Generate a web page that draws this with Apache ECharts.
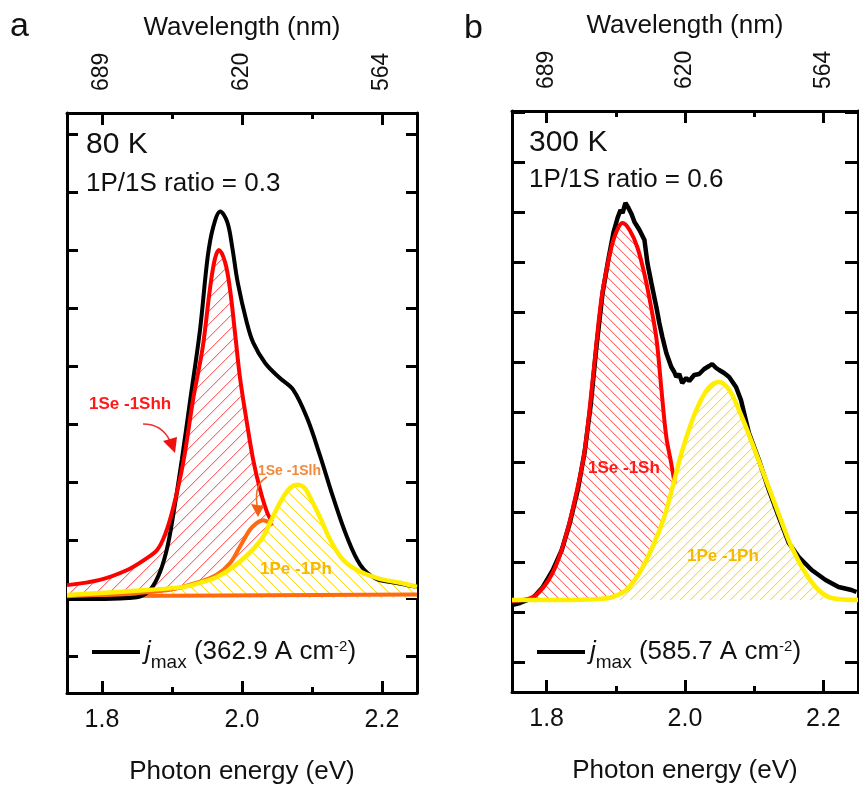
<!DOCTYPE html>
<html>
<head>
<meta charset="utf-8">
<script src="https://cdn.jsdelivr.net/npm/echarts@6/dist/echarts.min.js"></script>
<style>
html,body{margin:0;padding:0;background:#fff;}
#chart{width:859px;height:788px;}
</style>
</head>
<body>
<div id="chart"></div>
<script>
// ---------- axis ticks / labels ----------
const energyTicks = [1.8, 2.0, 2.2];
const energyMinorTicks = [1.9, 2.1];
const wavelengthLabels = ['689', '620', '564'];
const yTicksA = [-1, 0, 1, 2, 3, 4, 5, 6, 7, 8];
const yTicksB = [-1.24, -0.24, 0.76, 1.76, 2.76, 3.76, 4.76, 5.76, 6.76, 7.76, 8.76, 9.76];

// ---------- panel a (80 K) ----------
const blackA_E = [1.75, 1.797, 1.84, 1.854, 1.869, 1.883, 1.894, 1.904, 1.914, 1.926, 1.94, 1.951, 1.959, 1.969, 1.979, 1.986, 1.994, 2.007, 2.016, 2.033, 2.054, 2.073, 2.093, 2.111, 2.13, 2.15, 2.169, 2.19, 2.219, 2.25];
const blackA_I = [-0.02, -0.02, 0, 0.02, 0.14, 0.45, 0.91, 1.60, 2.38, 3.41, 4.62, 5.88, 6.40, 6.66, 6.48, 6.05, 5.43, 4.74, 4.40, 4.05, 3.79, 3.59, 3.10, 2.47, 1.74, 1.05, 0.57, 0.34, 0.26, 0.19];
const redA_E = [1.75, 1.797, 1.836, 1.861, 1.879, 1.89, 1.901, 1.916, 1.93, 1.944, 1.954, 1.961, 1.967, 1.976, 1.983, 1.99, 1.997, 2.007, 2.016, 2.026, 2.036, 2.043];
const redA_I = [0.22, 0.31, 0.48, 0.66, 0.83, 1.09, 1.52, 2.33, 3.41, 4.33, 5.31, 5.83, 6.00, 5.78, 5.31, 4.57, 3.81, 3.02, 2.38, 1.86, 1.47, 1.31];
const orangeA_E = [1.75, 1.826, 1.897, 1.94, 1.964, 1.983, 1.997, 2.011, 2.021, 2.03, 2.04, 2.043];
const orangeA_I = [0.03, 0.07, 0.14, 0.28, 0.40, 0.60, 0.88, 1.17, 1.29, 1.34, 1.29, 1.24];
const orangeBaseA_E = [1.75, 2.25];
const orangeBaseA_I = [0.03, 0.06];
const yellowA_E = [1.75, 1.869, 1.916, 1.94, 1.964, 1.987, 2.011, 2.03, 2.044, 2.059, 2.069, 2.079, 2.089, 2.097, 2.111, 2.126, 2.144, 2.164, 2.193, 2.226, 2.25];
const yellowA_I = [0.05, 0.14, 0.19, 0.26, 0.36, 0.53, 0.78, 1.05, 1.40, 1.74, 1.90, 1.95, 1.90, 1.74, 1.40, 1.00, 0.66, 0.48, 0.34, 0.26, 0.19];

// ---------- panel b (300 K) ----------
const blackB_E = [1.75, 1.7615, 1.7802, 1.7946, 1.809, 1.8219, 1.8335, 1.845, 1.855, 1.8637, 1.8723, 1.8809, 1.8896, 1.8968, 1.9025, 1.9068, 1.9097, 1.914, 1.9183, 1.9227, 1.927, 1.9342, 1.9414, 1.9457, 1.9514, 1.9586, 1.9629, 1.9673, 1.973, 1.9802, 1.9845, 1.9874, 1.9917, 1.996, 2.0018, 2.0061, 2.0133, 2.0205, 2.0277, 2.0349, 2.0392, 2.045, 2.0493, 2.0565, 2.0637, 2.0737, 2.0809, 2.0924, 2.1068, 2.1212, 2.1356, 2.15, 2.1644, 2.1831, 2.2032, 2.2219, 2.2406, 2.2478];
const blackB_I = [-0.10, -0.06, 0.04, 0.26, 0.60, 1.00, 1.54, 2.20, 2.96, 3.90, 5.10, 6.14, 6.84, 7.36, 7.64, 7.80, 7.74, 7.94, 7.84, 7.72, 7.56, 7.40, 7.20, 6.74, 6.34, 5.86, 5.54, 5.26, 4.94, 4.66, 4.56, 4.46, 4.52, 4.34, 4.44, 4.38, 4.50, 4.52, 4.62, 4.68, 4.72, 4.64, 4.60, 4.54, 4.46, 4.26, 4.00, 3.34, 2.80, 2.20, 1.66, 1.14, 0.86, 0.60, 0.40, 0.26, 0.20, 0.16];
const redB_E = [1.75, 1.78, 1.8, 1.815, 1.829, 1.844, 1.854, 1.862, 1.871, 1.879, 1.888, 1.898, 1.91, 1.92, 1.931, 1.941, 1.951, 1.959, 1.966, 1.973, 1.98, 1.985];
const redB_I = [-0.02, 0.06, 0.34, 0.74, 1.34, 2.20, 2.90, 3.80, 5.00, 6.00, 6.70, 7.26, 7.54, 7.40, 7.06, 6.54, 5.86, 5.20, 4.20, 3.26, 2.74, 2.34];
const yellowB_E = [1.75, 1.819, 1.877, 1.895, 1.915, 1.934, 1.953, 1.97, 1.982, 1.995, 2.009, 2.021, 2.035, 2.049, 2.064, 2.078, 2.097, 2.117, 2.136, 2.154, 2.174, 2.193, 2.212, 2.25];
const yellowB_I = [0, 0, 0.02, 0.06, 0.20, 0.54, 1.06, 1.66, 2.26, 2.94, 3.54, 3.94, 4.26, 4.36, 4.20, 3.80, 3.14, 2.40, 1.70, 1.06, 0.54, 0.20, 0.04, 0];

const FONT = "'Liberation Sans', Arial, sans-serif";
const zip = (xs, ys) => xs.map((x, i) => [x, ys[i]]);

// diagonal hatch tile: a 1px core line with a softer neighbour pixel
function hatch(core, soft, dir, size) {
  const c = document.createElement('canvas');
  c.width = size; c.height = size;
  const g = c.getContext('2d');
  g.fillStyle = '#ffffff';
  g.fillRect(0, 0, size, size);
  for (let y = 0; y < size; y++) {
    const x = dir === '/' ? size - 1 - y : y;
    g.fillStyle = soft;
    g.fillRect((x + 1) % size, y, 1, 1);
    g.fillStyle = core;
    g.fillRect(x, y, 1, 1);
  }
  return { image: c, repeat: 'repeat' };
}

const AX = { color: '#000', width: 3 };

function xAxes(g) {
  const base = { type: 'value', gridIndex: g, min: 1.75, max: 2.25, splitLine: { show: false } };
  return [
    Object.assign({}, base, {
      position: 'bottom',
      axisLine: { show: true, onZero: false, lineStyle: AX },
      axisTick: { show: true, inside: true, length: 12, customValues: energyTicks, lineStyle: AX },
      axisLabel: { show: true, customValues: energyTicks, formatter: v => v.toFixed(1), margin: 15, fontSize: 25, color: '#111', fontFamily: FONT },
      name: 'Photon energy (eV)', nameLocation: 'middle', nameGap: 66,
      nameTextStyle: { fontSize: 26, color: '#111', fontFamily: FONT }
    }),
    Object.assign({}, base, {
      position: 'bottom',
      axisLine: { show: false, onZero: false },
      axisTick: { show: true, inside: true, length: 6, customValues: energyMinorTicks, lineStyle: AX },
      axisLabel: { show: false }
    }),
    Object.assign({}, base, {
      position: 'top',
      axisLine: { show: true, onZero: false, lineStyle: AX },
      axisTick: { show: true, inside: true, length: 12, customValues: energyTicks, lineStyle: AX },
      axisLabel: {
        show: true, customValues: energyTicks, rotate: -90, margin: 22, fontSize: 23, color: '#111', fontFamily: FONT,
        formatter: v => { const i = energyTicks.findIndex(t => Math.abs(t - v) < 1e-6); return i >= 0 ? wavelengthLabels[i] : ''; }
      },
      name: 'Wavelength (nm)', nameLocation: 'middle', nameGap: 72,
      nameTextStyle: { fontSize: 26, color: '#111', fontFamily: FONT }
    }),
    Object.assign({}, base, {
      position: 'top',
      axisLine: { show: false, onZero: false },
      axisTick: { show: true, inside: true, length: 6, customValues: energyMinorTicks, lineStyle: AX },
      axisLabel: { show: false }
    })
  ];
}

function yAxes(g, min, max, ticks, len) {
  return ['left', 'right'].map(pos => ({
    type: 'value', gridIndex: g, position: pos, min: min, max: max,
    axisLine: { show: true, onZero: false, lineStyle: AX },
    axisTick: { show: true, inside: true, length: len, customValues: ticks, lineStyle: AX },
    axisLabel: { show: false }, splitLine: { show: false }
  }));
}

function areaSeries(xi, yi, data, pattern, z) {
  return { type: 'line', xAxisIndex: xi, yAxisIndex: yi, data: data, smooth: 0.35, showSymbol: false, symbol: 'none',
    color: '#ffffff', lineStyle: { width: 0, opacity: 0 }, areaStyle: { color: pattern, opacity: 1 }, z: z, silent: true };
}
function lineSeries(name, xi, yi, data, color, width, z, smooth) {
  return { name: name, type: 'line', xAxisIndex: xi, yAxisIndex: yi, data: data, smooth: smooth, showSymbol: false, symbol: 'none',
    color: color, lineStyle: { color: color, width: width }, z: z, silent: true };
}

const RED = '#ff0000', YEL = '#ffee00', ORG = '#ff6a10', BLK = '#000000';

const series = [
  // panel a
  areaSeries(0, 0, zip(redA_E, redA_I), hatch('#ff6e6e', '#ffd0d0', '/', 13), 2),
  areaSeries(0, 0, zip(yellowA_E, yellowA_I), hatch('#ffdc20', '#fff4b8', '\\', 12), 3),
  lineSeries('orangeBaseA', 0, 0, zip(orangeBaseA_E, orangeBaseA_I), ORG, 4, 3.5, false),
  lineSeries('jmax80', 0, 0, zip(blackA_E, blackA_I), BLK, 4, 4, 0.35),
  lineSeries('redA', 0, 0, zip(redA_E, redA_I), RED, 4, 5, 0.35),
  lineSeries('orangeA', 0, 0, zip(orangeA_E, orangeA_I), ORG, 4, 6, 0.35),
  lineSeries('yellowA', 0, 0, zip(yellowA_E, yellowA_I), YEL, 4.5, 7, 0.35),
  // panel b
  areaSeries(4, 2, zip(redB_E, redB_I), hatch('#ff6e6e', '#ffd0d0', '\\', 10), 2),
  areaSeries(4, 2, zip(yellowB_E, yellowB_I), hatch('#ffdc20', '#fff4b8', '/', 10), 3),
  lineSeries('jmax300', 4, 2, zip(blackB_E, blackB_I), BLK, 4.5, 4, false),
  lineSeries('redB', 4, 2, zip(redB_E, redB_I), RED, 4, 5, 0.35),
  lineSeries('yellowB', 4, 2, zip(yellowB_E, yellowB_I), YEL, 4.5, 7, 0.35)
];

const legendRich = {
  i: { fontSize: 26, fontStyle: 'italic', fontFamily: FONT, color: '#111' },
  s: { fontSize: 19, fontFamily: FONT, color: '#111', verticalAlign: 'bottom', padding: [0, 0, -7, 0] },
  n: { fontSize: 26, fontFamily: FONT, color: '#111' },
  p: { fontSize: 15, fontFamily: FONT, color: '#111', verticalAlign: 'top', padding: [0, 0, 0, 0] }
};
const legendLabels = { jmax80: '362.9', jmax300: '585.7' };
function legendOf(name, left) {
  return {
    data: [name], left: left, top: 634, icon: 'rect', itemWidth: 48, itemHeight: 4, itemGap: 0,
    itemStyle: { color: '#000' }, selectedMode: false,
    formatter: n => '{i|j}{s|max}{n| (' + legendLabels[n] + ' A cm}{p|-2}{n|)}',
    textStyle: { rich: legendRich, fontSize: 26, fontFamily: FONT, color: '#111' }
  };
}

function txt(text, x, y, size, color, bold) {
  return { type: 'text', silent: true, z: 100,
    style: { text: text, x: x, y: y, font: (bold ? 'bold ' : '') + size + 'px ' + FONT, fill: color, verticalAlign: 'middle' } };
}

const graphic = [
  txt('a', 10, 27, 34, '#111'),
  txt('b', 464, 29, 34, '#111'),
  txt('80 K', 86, 145, 30, '#111'),
  txt('1P/1S ratio = 0.3', 86, 184, 26, '#111'),
  txt('300 K', 529, 143, 30, '#111'),
  txt('1P/1S ratio = 0.6', 529, 180, 26, '#111'),
  txt('1Se -1Shh', 89, 404, 17, '#ff1a1a', true),
  txt('1Se -1Slh', 258, 471, 14, '#f28a3c', true),
  txt('1Pe -1Ph', 260, 569, 17, '#f7b800', true),
  txt('1Se -1Sh', 588, 468, 17, '#ff1a1a', true),
  txt('1Pe -1Ph', 687, 556, 17, '#f7b800', true),
  { type: 'bezierCurve', silent: true, z: 100, shape: { x1: 143, y1: 424, cpx1: 162, cpy1: 424, x2: 170, y2: 441 },
    style: { stroke: '#f03030', lineWidth: 1.5, fill: null } },
  { type: 'polygon', silent: true, z: 100, shape: { points: [[163, 441], [177, 437], [175, 453]] }, style: { fill: '#f01010' } },
  { type: 'bezierCurve', silent: true, z: 100, shape: { x1: 267, y1: 477, cpx1: 254, cpy1: 484, x2: 257, y2: 505 },
    style: { stroke: '#f07020', lineWidth: 1.5, fill: null } },
  { type: 'polygon', silent: true, z: 100, shape: { points: [[251, 504], [264, 506], [258, 517]] }, style: { fill: '#f06010' } }
];

const option = {
  animation: false,
  backgroundColor: '#ffffff',
  textStyle: { fontFamily: FONT },
  grid: [
    { left: 67, top: 113, width: 350, height: 580, outerBoundsMode: 'none', containLabel: false },
    { left: 512, top: 111, width: 346, height: 581, outerBoundsMode: 'none', containLabel: false }
  ],
  xAxis: xAxes(0).concat(xAxes(1)),
  yAxis: yAxes(0, -1.64, 8.36, yTicksA, 11).concat(yAxes(1, -1.84, 9.78, yTicksB, 13)),
  legend: [legendOf('jmax80', 87), legendOf('jmax300', 532)],
  series: series,
  graphic: graphic
};

const chart = echarts.init(document.getElementById('chart'), null, { renderer: 'canvas' });
chart.setOption(option);
</script>
</body>
</html>
